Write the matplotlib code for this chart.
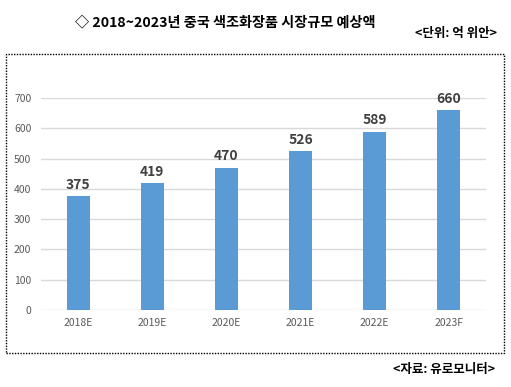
import matplotlib
matplotlib.use("Agg")
import matplotlib.pyplot as plt
from matplotlib.patches import Rectangle

plt.rcParams['font.family'] = ['Noto Sans CJK KR', 'DejaVu Sans']

categories = ["2018E", "2019E", "2020E", "2021E", "2022E", "2023F"]
values = [375, 419, 470, 526, 589, 660]
yticks = [0, 100, 200, 300, 400, 500, 600, 700]

W, H = 511, 387
fig = plt.figure(figsize=(W / 100, H / 100), dpi=100)

ax = fig.add_axes([41 / W, 1 - 310 / H, (486 - 41) / W, (310 - 98) / H])
x = range(len(categories))
bars = ax.bar(x, values, width=0.31, color="#5B9BD5", zorder=3)
ax.set_xlim(-0.5, len(categories) - 0.5)
ax.set_ylim(0, 700)
ax.set_yticks(yticks)
ax.set_xticks(list(x))
ax.set_xticklabels(categories)
ax.grid(axis="y", color="#D9D9D9", linewidth=1, zorder=0)
for s in ax.spines.values():
    s.set_visible(False)
ax.tick_params(axis="both", length=0, labelsize=7.5, labelcolor="#595959")
ax.tick_params(axis="y", pad=7)
ax.tick_params(axis="x", pad=6)
for b, v in zip(bars, values):
    ax.annotate(str(v), (b.get_x() + b.get_width() / 2, v), xytext=(0, 3),
                textcoords="offset points", ha="center", va="bottom",
                fontsize=10, fontweight="bold", color="#404040", clip_on=False)

fig.patches.append(Rectangle((6 / W, 1 - 353 / H), (504 - 6) / W, (353 - 54) / H,
                             transform=fig.transFigure, fill=False,
                             linestyle=(0, (1, 1)), linewidth=1, edgecolor="black"))

fig.text(225 / W, 1 - 22 / H, "◇ 2018~2023년 중국 색조화장품 시장규모 예상액",
         ha="center", va="center", fontsize=10.2, fontweight="bold", color="black",
         family=['Noto Sans CJK KR', 'DejaVu Sans'])
fig.text(497 / W, 1 - 33 / H, "<단위: 억 위안>", ha="right", va="center",
         fontsize=9, fontweight="bold", color="black")
fig.text(495 / W, 1 - 370 / H, "<자료: 유로모니터>", ha="right", va="center",
         fontsize=9, fontweight="bold", color="black")

fig.savefig("out.png", dpi=100)
